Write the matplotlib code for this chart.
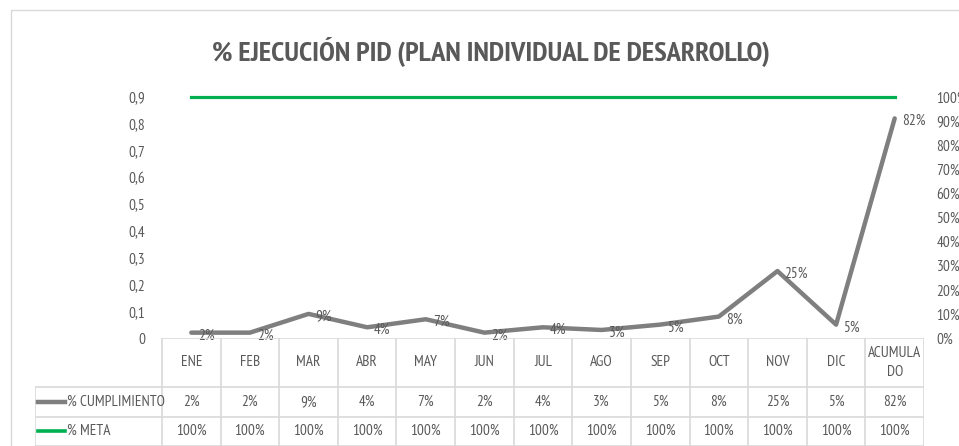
"""
Plot_Linechart.EjecucionPID.py
==============================
Monthly PID execution (% cumplimiento) against the target (% meta),
with an Excel-style data table under the chart.
"""

import numpy as np
import matplotlib.pyplot as plt
from matplotlib.lines import Line2D
from matplotlib.patches import Rectangle

plt.rcParams['font.family'] = ['PT Sans Narrow', 'Archivo Narrow', 'DejaVu Sans']
Title_Family = ['PT Sans Narrow', 'Barlow Semi Condensed', 'Saira SemiCondensed', 'DejaVu Sans']

# Data
Months       = ['ENE', 'FEB', 'MAR', 'ABR', 'MAY', 'JUN', 'JUL', 'AGO', 'SEP', 'OCT', 'NOV', 'DIC', 'ACUMULA\nDO']
Cumplimiento = [0.02, 0.02, 0.09, 0.04, 0.07, 0.02, 0.04, 0.03, 0.05, 0.08, 0.25, 0.05, 0.82]
Meta         = [1.00, 1.00, 1.00, 1.00, 1.00, 1.00, 1.00, 1.00, 1.00, 1.00, 1.00, 1.00, 1.00]
Left_Ticks   = [0, 0.1, 0.2, 0.3, 0.4, 0.5, 0.6, 0.7, 0.8, 0.9]
Right_Ticks  = [0, 0.1, 0.2, 0.3, 0.4, 0.5, 0.6, 0.7, 0.8, 0.9, 1.0]
Row_Names    = ['% CUMPLIMIENTO', '% META']

C_Gray  = '#7f7f7f'
C_Green = '#00b050'
C_Text  = '#595959'
C_Grid  = '#d9d9d9'
FS      = 11

W, H = 959, 446
fig = plt.figure(figsize=(W / 100, H / 100), dpi=100)

# Chart frame
fig.patches.append(Rectangle((11 / W, -0.1), 1.2, (H - 10) / H + 0.1, transform=fig.transFigure,
                             fill=False, edgecolor=C_Grid, linewidth=1))

# Plot area (pixel box: x 162..924, y 97..338)
X0, X1, Y0, Y1 = 162, 924, 97, 338
ax = fig.add_axes([X0 / W, (H - Y1) / H, (X1 - X0) / W, (Y1 - Y0) / H])
ax2 = ax.twinx()
x = np.arange(len(Months))

ax.plot(x, Cumplimiento, color=C_Gray, linewidth=3.2, solid_capstyle='round', clip_on=False, zorder=3)
for i_x, i_v in zip(x, Cumplimiento):
	ax.annotate('{:.0f}%'.format(i_v * 100), (i_x, i_v), xytext=(5, -2), textcoords='offset points',
	            ha='left', va='center', fontsize=FS, color=C_Text)

ax2.plot(x, Meta, color=C_Green, linewidth=2.3, clip_on=False)

ax.set_xlim(-0.5, len(Months) - 0.5)
ax.set_ylim(0, 0.9)
ax2.set_ylim(0, 1.0)
ax.set_yticks(Left_Ticks)
ax.set_yticklabels([('{:.1f}'.format(t).replace('.', ',') if t > 0 else '0') for t in Left_Ticks])
ax2.set_yticks(Right_Ticks)
ax2.set_yticklabels(['{:.0f}%'.format(t * 100) for t in Right_Ticks])
ax.set_xticks([])
for i_ax in [ax, ax2]:
	i_ax.patch.set_visible(False)
	for s in i_ax.spines.values(): s.set_visible(False)
	i_ax.tick_params(axis='y', length=0, labelsize=FS, labelcolor=C_Text)
ax.tick_params(axis='y', pad=12)
ax2.tick_params(axis='y', pad=9)

# Title
fig.text(491 / W, (H - 52) / H, '% EJECUCIÓN PID (PLAN INDIVIDUAL DE DESARROLLO)', ha='center', va='center',
         fontsize=20.5, fontweight='bold', color=C_Text, family=Title_Family)

# Data table (pixel box: x 35..924, y 338..446)
T0 = 35
Col_W = (X1 - X0) / len(Months)
tax = fig.add_axes([T0 / W, 0, (X1 - T0) / W, (H - Y1) / H])
tax.set_xlim(-0.5 - (X0 - T0) / Col_W, len(Months) - 0.5)
tax.set_ylim(0, H - Y1)
tax.axis('off')
Row_Top = [H - Y1, H - 387, H - 417, 0.5]
Left_Edge = -0.5 - (X0 - T0) / Col_W

# Grid
tax.plot([-0.5, len(Months) - 0.5], [Row_Top[0]] * 2, color=C_Grid, lw=1.2)
for i_y in Row_Top[1:]:
	tax.plot([Left_Edge, len(Months) - 0.5], [i_y] * 2, color=C_Grid, lw=1.2)
for i_c in range(len(Months) + 1):
	tax.plot([i_c - 0.5] * 2, [0, Row_Top[0]], color=C_Grid, lw=1.2)
tax.plot([Left_Edge] * 2, [0, Row_Top[1]], color=C_Grid, lw=1.2)

# Cells
for i_c, i_m in enumerate(Months):
	tax.text(i_c, (Row_Top[0] + Row_Top[1]) / 2, i_m, ha='center', va='center', fontsize=FS,
	         color=C_Text, linespacing=1.4)
	tax.text(i_c, (Row_Top[1] + Row_Top[2]) / 2, '{:.0f}%'.format(Cumplimiento[i_c] * 100),
	         ha='center', va='center', fontsize=FS, color=C_Text)
	tax.text(i_c, (Row_Top[2] + Row_Top[3]) / 2, '{:.0f}%'.format(Meta[i_c] * 100),
	         ha='center', va='center', fontsize=FS, color=C_Text)

# Row headers with legend keys
for i_r, (i_name, i_color, i_lw) in enumerate(zip(Row_Names, [C_Gray, C_Green], [3.2, 2.6])):
	y_mid = (Row_Top[i_r + 1] + Row_Top[i_r + 2]) / 2
	fig.lines.append(Line2D([38 / W, 65 / W], [y_mid / H] * 2, transform=fig.transFigure,
	                        color=i_color, lw=i_lw))
	fig.text(67 / W, y_mid / H, i_name, ha='left', va='center', fontsize=FS, color=C_Text)

fig.savefig('out.png', dpi=100)
plt.close('all')
